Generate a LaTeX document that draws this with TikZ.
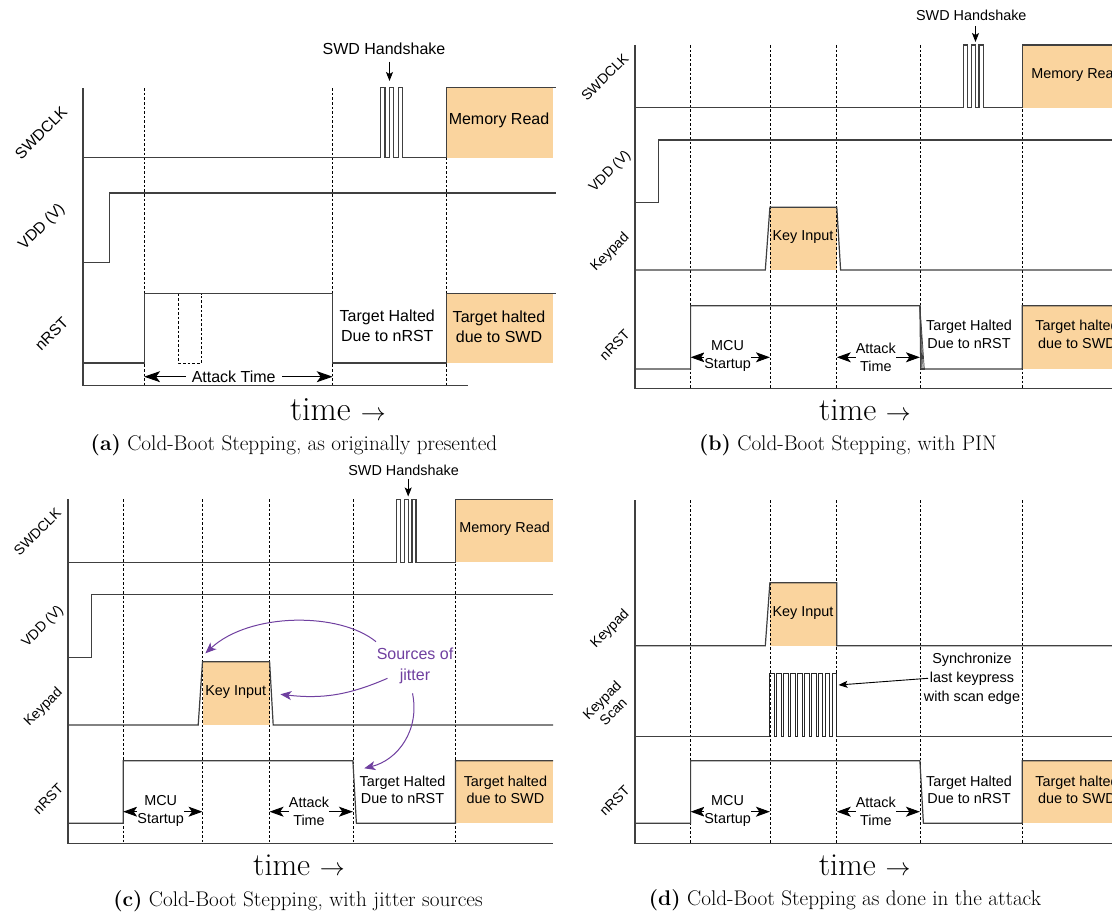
\documentclass[tikz,border=0pt]{standalone}
\usepackage{fontspec}
\newfontfamily\sigfont{Liberation Sans}
\usetikzlibrary{arrows.meta}
\definecolor{wavecol}{RGB}{64,64,64}
\definecolor{keyfill}{RGB}{250,212,158}
\definecolor{jitter}{RGB}{112,64,160}
\tikzset{
  wave/.style={draw=wavecol, line width=1.2pt, line join=miter},
  scanwave/.style={draw=black!85, line width=0.9pt, line join=miter},
  guide/.style={draw=black, line width=0.75pt, dash pattern=on 2.6pt off 2pt},
  orange/.style={fill=keyfill, draw=none},
  txta/.style={font=\sigfont\fontsize{16}{20}\selectfont, align=center, inner sep=0pt},
  txtb/.style={font=\sigfont\fontsize{14.4}{17.8}\selectfont, align=center, inner sep=0pt},
  siglbla/.style={font=\sigfont\fontsize{15.5}{17}\selectfont, rotate=45, align=center, inner sep=0pt},
  siglblb/.style={font=\sigfont\fontsize{14}{16}\selectfont, rotate=45, align=center, inner sep=0pt},
  timea/.style={font=\fontsize{34}{38}\selectfont, inner sep=0pt},
  timeb/.style={font=\fontsize{32}{36}\selectfont, inner sep=0pt},
  capt/.style={font=\fontsize{21.2}{25}\selectfont, inner sep=0pt},
  spana/.style={line width=0.9pt, {Stealth[length=16pt,width=11pt,inset=4pt]}-{Stealth[length=16pt,width=11pt,inset=4pt]}},
  spanb/.style={line width=0.9pt, {Stealth[length=14pt,width=10pt,inset=3.5pt]}-{Stealth[length=14pt,width=10pt,inset=3.5pt]}},
  ptr/.style={line width=0.9pt, -{Stealth[length=9pt,width=7pt,inset=2pt]}},
  jit/.style={draw=jitter, line width=1pt, -{Stealth[length=11pt,width=9pt,inset=3pt]}},
}
\begin{document}
\begin{tikzpicture}[x=1pt, y=-1pt]
\clip (0,0) rectangle (1112,915);
\fill[white] (0,0) rectangle (1112,915);

% ===================== (a) =====================
\fill[orange] (446.3,87.7) rectangle (553,157.7);
\fill[orange] (446.3,293.7) rectangle (553,363);
\foreach \gx in {144.1,332.7,446.3} \draw[guide] (\gx,88.3) -- (\gx,385.7);
\draw[wave] (83,88.3) -- (83,385.7) -- (467.7,385.7);
\draw[wave] (83,157.7) -- (380.2,157.7) -- (380.2,87.7) -- (384.9,87.7) -- (384.9,157.7)
  -- (389.5,157.7) -- (389.5,87.7) -- (393.8,87.7) -- (393.8,157.7)
  -- (398.1,157.7) -- (398.1,87.7) -- (402.3,87.7) -- (402.3,157.7)
  -- (446.3,157.7) -- (446.3,87.7) -- (556,87.7);
\draw[wave] (83,262.7) -- (109.1,262.7) -- (109.1,193) -- (556,193);
\draw[wave] (83,363) -- (144.1,363) -- (144.1,293.7) -- (332.7,293.7) -- (332.7,363)
  -- (446.3,363) -- (446.3,293.7) -- (556,293.7);
\draw[guide] (178.8,293.7) -- (178.8,363) -- (201.3,363) -- (201.3,293.7);
\coordinate (a-t1) at (144.1,376.7);
\coordinate (a-t2) at (332.7,376.7);
\draw[spana] (a-t1) -- (a-t2) node[pos=0.475, txta, fill=white, inner xsep=6pt, inner ysep=2pt] (a-atk) {Attack Time};
\node[txta] (a-hs) at (384,48.3) {SWD Handshake};
\coordinate (a-hs-tail) at (389.5,61.7);
\coordinate (a-hs-tip) at (389.5,81);
\draw[ptr] (a-hs-tail) -- (a-hs-tip);
\node[txta] (a-mem) at (499,120.5) {Memory Read};
\node[txta] (a-halt) at (387.3,325.7) {Target Halted\\Due to nRST};
\node[txta] (a-swd) at (499,326.3) {Target halted\\due to SWD};
\node[siglbla] (a-l1) at (41,133) {SWDCLK};
\node[siglbla] (a-l2) at (42,227) {VDD (V)};
\node[siglbla] (a-l3) at (51.6,334) {nRST};
\node[timea] (a-time) at (338,410) {time $\rightarrow$};
\node[capt] (a-cap) at (294,445.5) {\textbf{(a)} Cold-Boot Stepping, as originally presented};

% ===================== (b) =====================
\fill[orange] (1022.3,45) rectangle (1115,107.7);
\fill[orange] (769.9,207.3) rectangle (836.8,270);
\fill[orange] (1022.3,305.7) rectangle (1115,369);
\foreach \gx in {690.6,769.9,836.8,919.9,1022.3} \draw[guide] (\gx,45) -- (\gx,388.3);
\draw[wave] (635,45) -- (635,388.3) -- (1115,388.3);
\draw[wave] (635,107.7) -- (963.2,107.7) -- (963.2,45) -- (967.4,45) -- (967.4,107.7)
  -- (971.3,107.7) -- (971.3,45) -- (975.5,45) -- (975.5,107.7)
  -- (979,107.7) -- (979,45) -- (983.2,45) -- (983.2,107.7)
  -- (1022.3,107.7) -- (1022.3,45) -- (1115,45);
\draw[wave] (635,202.7) -- (658.6,202.7) -- (658.6,140) -- (1115,140);
\draw[wave] (635,270) -- (765.3,270) -- (769.9,207.3) -- (836.8,207.3) -- (840.6,270) -- (1115,270);
\draw[wave] (635,369) -- (690.6,369) -- (690.6,305.7) -- (919.9,305.7) -- (920.8,369)
  -- (1022.3,369) -- (1022.3,305.7) -- (1115,305.7);
\foreach \bx in {921.9,923.1,924.3} \draw[draw=wavecol, line width=0.7pt] (919.9,305.7) -- (\bx,369);
\draw[wave] (921,369) -- (925,369);
\coordinate (b-m1) at (690.6,357.3);
\coordinate (b-m2) at (769.9,357.3);
\coordinate (b-k1) at (836.8,357.3);
\coordinate (b-k2) at (919.9,357.3);
\draw[spanb] (b-m1) -- (b-m2);
\draw[spanb] (b-k1) -- (b-k2);
\node[txtb, fill=white] (b-mcu) at (727.6,356) {MCU\\Startup};
\node[txtb, fill=white] (b-atk) at (875.8,357.3) {Attack\\Time};
\node[txtb] (b-hs) at (971.3,15) {SWD Handshake};
\coordinate (b-hs-tail) at (975.5,26);
\coordinate (b-hs-tip) at (975.5,42);
\draw[ptr] (b-hs-tail) -- (b-hs-tip);
\node[txtb] (b-mem) at (1076.5,75) {Memory Read};
\node[txtb] (b-key) at (803,237.3) {Key Input};
\node[txtb] (b-halt) at (969,334.5) {Target Halted\\Due to nRST};
\node[txtb] (b-swd) at (1077,334.5) {Target halted\\due to SWD};
\node[siglblb] (b-l1) at (604.9,77.3) {SWDCLK};
\node[siglblb] (b-l2) at (610.2,171.7) {VDD (V)};
\node[siglblb] (b-l3) at (610.2,252.3) {Keypad};
\node[siglblb] (b-l4) at (614.6,345) {nRST};
\node[timeb] (b-time) at (865,410) {time $\rightarrow$};
\node[capt] (b-cap) at (848,445.5) {\textbf{(b)} Cold-Boot Stepping, with PIN};

% ===================== (c) =====================
\fill[orange] (455.4,499.3) rectangle (553,562.3);
\fill[orange] (202.5,661.7) rectangle (269.6,725);
\fill[orange] (455.4,760.7) rectangle (553,823.3);
\foreach \gx in {123.2,202.5,269.6,352.9,455.4} \draw[guide] (\gx,499.3) -- (\gx,843.3);
\draw[wave] (68,499.3) -- (68,843.3) -- (553,843.3);
\draw[wave] (68,562.3) -- (396.4,562.3) -- (396.4,499.3) -- (400.3,499.3) -- (400.3,562.3)
  -- (404.2,562.3) -- (404.2,499.3) -- (408.1,499.3) -- (408.1,562.3)
  -- (412,562.3) -- (412,499.3) -- (416,499.3) -- (416,562.3)
  -- (455.4,562.3) -- (455.4,499.3) -- (553,499.3);
\draw[wave] (68,657.3) -- (91.8,657.3) -- (91.8,594.3) -- (553,594.3);
\draw[wave] (68,725) -- (198.2,725) -- (202.5,661.7) -- (269.6,661.7) -- (273.2,725) -- (553,725);
\draw[wave] (68,823.3) -- (123.2,823.3) -- (123.2,760.7) -- (352.9,760.7) -- (356.4,823.3)
  -- (455.4,823.3) -- (455.4,760.7) -- (553,760.7);
\coordinate (c-m1) at (123.2,811.7);
\coordinate (c-m2) at (202.5,811.7);
\coordinate (c-k1) at (269.6,811.7);
\coordinate (c-k2) at (352.9,811.7);
\draw[spanb] (c-m1) -- (c-m2);
\draw[spanb] (c-k1) -- (c-k2);
\node[txtb, fill=white] (c-mcu) at (160.7,810.8) {MCU\\Startup};
\node[txtb, fill=white] (c-atk) at (309,811.7) {Attack\\Time};
\node[txtb] (c-hs) at (403.6,470) {SWD Handshake};
\coordinate (c-hs-tail) at (408.2,479.3);
\coordinate (c-hs-tip) at (408.2,496.5);
\draw[ptr] (c-hs-tail) -- (c-hs-tip);
\node[txtb] (c-mem) at (504.6,529) {Memory Read};
\node[txtb] (c-key) at (235.7,691.7) {Key Input};
\node[txtb] (c-halt) at (402.5,789.8) {Target Halted\\Due to nRST};
\node[txtb] (c-swd) at (505.4,789.8) {Target halted\\due to SWD};
\node[font=\sigfont\fontsize{16}{21}\selectfont, text=jitter, align=center, inner sep=0pt] (c-jit) at (415,665.5) {Sources of\\jitter};
\coordinate (c-j1s) at (376,641.7);
\coordinate (c-j1e) at (205.4,653.3);
\coordinate (c-j2s) at (387.5,678.3);
\coordinate (c-j2e) at (280.4,694.3);
\coordinate (c-j3s) at (412.5,693.3);
\coordinate (c-j3e) at (364.3,768.3);
\draw[jit] (c-j1s) .. controls (340,612) and (250,612) .. (c-j1e);
\draw[jit] (c-j2s) to[bend left=15] (c-j2e);
\draw[jit] (c-j3s) .. controls (420,730) and (398,760) .. (c-j3e);
\node[siglblb] (c-l1) at (37.5,531.7) {SWDCLK};
\node[siglblb] (c-l2) at (42.9,626.7) {VDD (V)};
\node[siglblb] (c-l3) at (43.6,707.3) {Keypad};
\node[siglblb] (c-l4) at (48.2,799) {nRST};
\node[timeb] (c-time) at (299,865) {time $\rightarrow$};
\node[capt] (c-cap) at (298,901) {\textbf{(c)} Cold-Boot Stepping, with jitter sources};

% ===================== (d) =====================
\fill[orange] (769.9,582.7) rectangle (836.8,645.7);
\fill[orange] (1022.3,760.7) rectangle (1115,823.3);
\foreach \gx in {690.6,769.9,836.8,919.9,1022.3} \draw[guide] (\gx,500) -- (\gx,843.3);
\draw[wave] (635,500) -- (635,843.3) -- (1115,843.3);
\draw[wave] (635,645.7) -- (765.3,645.7) -- (769.9,582.7) -- (836.8,582.7) -- (836.8,645.7) -- (1115,645.7);
\draw[wave] (635,736.7) -- (769.9,736.7);
\draw[scanwave] (769.9,736.7)
  \foreach \k in {1,...,9} { -- ++(0,-63.4) -- ++(4.46,0) -- ++(0,63.4) -- ++(2.48,0) }
  -- ++(0,-63.4) -- ++(4.46,0) -- ++(0,63.4);
\draw[wave] (836.8,736.7) -- (1115,736.7);
\draw[wave] (635,823.3) -- (690.6,823.3) -- (690.6,760.7) -- (919.9,760.7) -- (923.4,823.3)
  -- (1022.3,823.3) -- (1022.3,760.7) -- (1115,760.7);
\coordinate (d-m1) at (690.6,811.7);
\coordinate (d-m2) at (769.9,811.7);
\coordinate (d-k1) at (836.8,811.7);
\coordinate (d-k2) at (919.9,811.7);
\draw[spanb] (d-m1) -- (d-m2);
\draw[spanb] (d-k1) -- (d-k2);
\node[txtb, fill=white] (d-mcu) at (727.6,810.8) {MCU\\Startup};
\node[txtb, fill=white] (d-atk) at (875.8,811.7) {Attack\\Time};
\node[txtb] (d-key) at (803,613.3) {Key Input};
\node[txtb, font=\sigfont\fontsize{14.4}{19}\selectfont] (d-sync) at (972,678.5) {Synchronize\\last keypress\\with scan edge};
\coordinate (d-sy-tail) at (928,678.3);
\coordinate (d-sy-tip) at (838.5,685);
\draw[ptr] (d-sy-tail) -- (d-sy-tip);
\node[txtb] (d-halt) at (969,789.8) {Target Halted\\Due to nRST};
\node[txtb] (d-swd) at (1077,789.8) {Target halted\\due to SWD};
\node[siglblb] (d-l1) at (610.2,629) {Keypad};
\node[siglblb] (d-l2) at (607.5,705.7) {Keypad\\Scan};
\node[siglblb] (d-l3) at (614.6,800.7) {nRST};
\node[timeb] (d-time) at (864.6,865) {time $\rightarrow$};
\node[capt] (d-cap) at (845,900) {\textbf{(d)} Cold-Boot Stepping as done in the attack};
\end{tikzpicture}
\end{document}
